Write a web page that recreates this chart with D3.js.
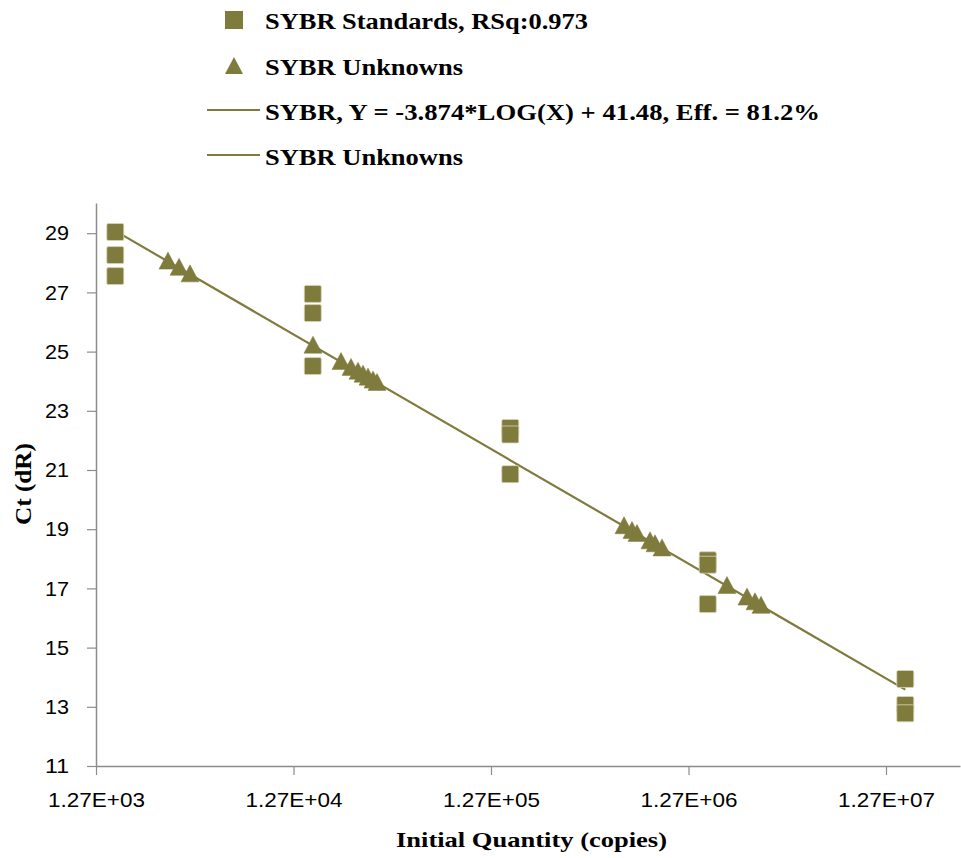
<!DOCTYPE html>
<html>
<head>
<meta charset="utf-8">
<script src="https://cdn.jsdelivr.net/npm/d3@7"></script>
<style>
  html, body { margin: 0; padding: 0; background: #fff; }
  svg { display: block; }
</style>
</head>
<body>
<svg id="chart" width="961" height="858"></svg>
<script>
// Standard curve: initial quantity (copies) vs Ct
const standardQty = [1590, 1590, 1590, 15900, 15900, 15900, 159000, 159000, 159000, 1590000, 1590000, 1590000, 15900000, 15900000, 15900000];
const standardCt  = [29.04, 28.26, 27.55, 26.95, 26.30, 24.51, 22.42, 22.20, 20.86, 17.95, 17.80, 16.47, 13.94, 13.06, 12.78];

const unknownQty = [2940, 3344, 3800, 15940, 22100, 24830, 26940, 28560, 30280, 32090, 33620,
                    598800, 657200, 696700, 810800, 859500, 932700, 1989000, 2512000, 2757000, 2958000];
const unknownCt  = [28.04, 27.83, 27.61, 25.20, 24.65, 24.45, 24.32, 24.22, 24.12, 24.02, 23.94,
                    19.10, 18.94, 18.84, 18.59, 18.49, 18.35, 17.08, 16.69, 16.53, 16.41];

// Fit stated in the legend
const fitSlope = -3.874;
const fitIntercept = 41.48;

const xTicks = [1270, 12700, 127000, 1270000, 12700000];
const xTickLabels = ["1.27E+03", "1.27E+04", "1.27E+05", "1.27E+06", "1.27E+07"];
const yTicks = [11, 13, 15, 17, 19, 21, 23, 25, 27, 29];

const legendItems = [
  { kind: "square",   label: "SYBR Standards, RSq:0.973", width: 323 },
  { kind: "triangle", label: "SYBR Unknowns", width: 198 },
  { kind: "line",     label: "SYBR, Y = -3.874*LOG(X) + 41.48, Eff. = 81.2%", width: 555 },
  { kind: "line",     label: "SYBR Unknowns", width: 198 }
];

(function draw() {
  const markColor = "#7f7b3d";
  const lineColor = "#7f7b3d";
  const axisColor = "#8c8c8c";
  const serif = "'Liberation Serif', 'Times New Roman', serif";
  const sans = "'Liberation Sans', Arial, sans-serif";

  const svg = d3.select("#chart");
  const plotLeft = 96, plotBottom = 766, plotRight = 960, plotTop = 203;

  const x = d3.scaleLog().domain([1270, 1270 * Math.pow(10, (plotRight - plotLeft) / 197.5)]).range([plotLeft, plotRight]);
  const y = d3.scaleLinear().domain([11, 11 + (plotBottom - plotTop) / 29.6]).range([plotBottom, plotTop]);

  // Axes
  const xAxis = d3.axisBottom(x).tickValues(xTicks).tickFormat((d, i) => xTickLabels[i]).tickSize(9).tickSizeOuter(0);
  const gx = svg.append("g").attr("transform", `translate(0,${plotBottom})`).call(xAxis);
  gx.select(".domain").attr("stroke", axisColor).attr("stroke-width", 1.5);
  gx.selectAll(".tick line").attr("stroke", axisColor).attr("stroke-width", 1.2);
  gx.selectAll(".tick text")
    .attr("y", 41).attr("dy", null)
    .attr("fill", "#000")
    .attr("textLength", 97).attr("lengthAdjust", "spacingAndGlyphs")
    .style("font-family", sans)
    .style("font-size", "21px");

  const yAxis = d3.axisLeft(y).tickValues(yTicks).tickFormat(d3.format("d")).tickSize(9).tickSizeOuter(0);
  const gy = svg.append("g").attr("transform", `translate(${plotLeft},0)`).call(yAxis);
  gy.select(".domain").attr("stroke", axisColor).attr("stroke-width", 1.5);
  gy.selectAll(".tick line").attr("stroke", axisColor).attr("stroke-width", 1.2);
  gy.selectAll(".tick text")
    .attr("x", -27)
    .attr("fill", "#000")
    .attr("textLength", 24).attr("lengthAdjust", "spacingAndGlyphs")
    .style("font-family", sans)
    .style("font-size", "21px");

  // Axis titles
  svg.append("text")
    .attr("x", 531.5).attr("y", 847)
    .attr("text-anchor", "middle")
    .attr("textLength", 271).attr("lengthAdjust", "spacingAndGlyphs")
    .style("font-family", serif)
    .style("font-weight", "bold").style("font-size", "22px")
    .text("Initial Quantity (copies)");

  svg.append("text")
    .attr("transform", "translate(31,484) rotate(-90)")
    .attr("text-anchor", "middle")
    .attr("textLength", 82).attr("lengthAdjust", "spacingAndGlyphs")
    .style("font-family", serif)
    .style("font-weight", "bold").style("font-size", "24px")
    .text("Ct (dR)");

  // Regression line across the standards' range
  const qMin = d3.min(standardQty), qMax = d3.max(standardQty);
  const fitLine = d3.line().x(d => x(d)).y(d => y(fitSlope * Math.log10(d) + fitIntercept));
  svg.append("path")
    .datum([qMin, qMax])
    .attr("d", fitLine)
    .attr("fill", "none")
    .attr("stroke", lineColor)
    .attr("stroke-width", 2.2);

  // Standards (squares)
  const sq = 17;
  svg.append("g").selectAll("rect")
    .data(standardQty.map((q, i) => [q, standardCt[i]]))
    .join("rect")
    .attr("x", d => x(d[0]) - sq / 2)
    .attr("y", d => y(d[1]) - sq / 2)
    .attr("width", sq).attr("height", sq)
    .attr("rx", 1.5)
    .attr("fill", markColor)
    .attr("stroke", "#d8d6b8").attr("stroke-width", 0.8);

  // Unknowns (triangles), 18 wide by 17 tall
  const triPath = "M0,-9.5L9,7.5L-9,7.5Z";
  svg.append("g").selectAll("path")
    .data(unknownQty.map((q, i) => [q, unknownCt[i]]))
    .join("path")
    .attr("d", triPath)
    .attr("transform", d => `translate(${x(d[0])},${y(d[1])})`)
    .attr("fill", markColor)
    .attr("stroke", markColor).attr("stroke-width", 0.5);

  // Legend
  const lg = svg.append("g");
  const rowY = [20, 66, 111, 156];
  legendItems.forEach((item, i) => {
    const cy = rowY[i];
    if (item.kind === "square") {
      lg.append("rect").attr("x", 225).attr("y", cy - 9).attr("width", 18).attr("height", 18)
        .attr("fill", markColor);
    } else if (item.kind === "triangle") {
      lg.append("path").attr("d", triPath)
        .attr("transform", `translate(234,${cy + 0.5})`).attr("fill", markColor);
    } else {
      lg.append("line").attr("x1", 207).attr("x2", 260).attr("y1", cy - 1).attr("y2", cy - 1)
        .attr("stroke", lineColor).attr("stroke-width", 2.2);
    }
    lg.append("text")
      .attr("x", 265).attr("y", cy + 9)
      .attr("textLength", item.width).attr("lengthAdjust", "spacingAndGlyphs")
      .style("font-family", serif)
      .style("font-weight", "bold").style("font-size", "24px")
      .text(item.label);
  });
})();
</script>
</body>
</html>
